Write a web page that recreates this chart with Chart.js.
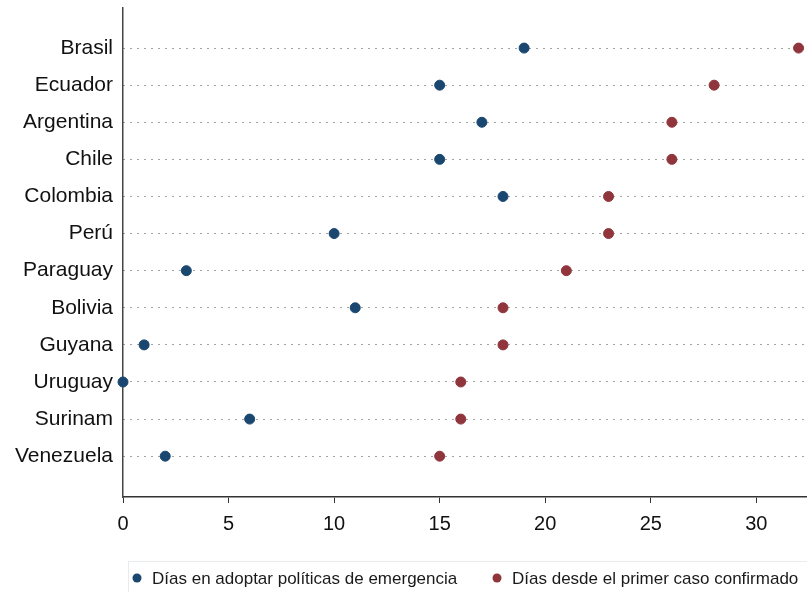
<!DOCTYPE html>
<html>
<head>
<meta charset="utf-8">
<script src="https://cdn.jsdelivr.net/npm/chart.js@4/dist/chart.umd.min.js"></script>
<style>
  html, body { margin: 0; padding: 0; background: #fff; }
  #wrap { width: 807px; height: 592px; }
</style>
</head>
<body>
<div id="wrap"><canvas id="chart1"></canvas></div>
<script>
var paises = ["Brasil", "Ecuador", "Argentina", "Chile", "Colombia", "Perú",
  "Paraguay", "Bolivia", "Guyana", "Uruguay", "Surinam", "Venezuela"];
var diasPoliticas = [19, 15, 17, 15, 18, 10, 3, 11, 1, 0, 6, 2];
var diasPrimerCaso = [32, 28, 26, 26, 23, 23, 21, 18, 18, 16, 16, 15];
var xTicks = [0, 5, 10, 15, 20, 25, 30];

var azul = "#1a476f";
var rojo = "#90353b";
var FONT = "'Liberation Sans', Arial, sans-serif";

function toPoints(values) {
  return values.map(function (v, i) {
    return { x: v, y: i + 1 };
  });
}

// legend drawn by hand to match the framed box below the axis
var legendBox = {
  id: "legendBox",
  afterDraw: function (chart) {
    var ctx = chart.ctx;
    ctx.save();
    ctx.strokeStyle = "#e8ecef";
    ctx.lineWidth = 1;
    ctx.strokeRect(128.5, 561.5, 690, 40);
    ctx.font = "17px " + FONT;
    ctx.textBaseline = "middle";
    var xs = [137, 497];
    chart.data.datasets.forEach(function (ds, i) {
      ctx.fillStyle = ds.backgroundColor;
      ctx.beginPath();
      ctx.arc(xs[i], 578, 4.5, 0, Math.PI * 2);
      ctx.fill();
      ctx.fillStyle = "#1a1a1a";
      ctx.fillText(ds.label, xs[i] + 15, 579);
    });
    ctx.restore();
  }
};

var ctx = document.getElementById("chart1").getContext("2d");
var chart = new Chart(ctx, {
  type: "scatter",
  data: {
    datasets: [
      {
        label: "Días en adoptar políticas de emergencia",
        data: toPoints(diasPoliticas),
        backgroundColor: azul,
        borderColor: azul,
        pointRadius: 5,
        clip: false
      },
      {
        label: "Días desde el primer caso confirmado",
        data: toPoints(diasPrimerCaso),
        backgroundColor: rojo,
        borderColor: rojo,
        pointRadius: 5,
        clip: false
      }
    ]
  },
  options: {
    responsive: true,
    maintainAspectRatio: false,
    animation: false,
    layout: { autoPadding: false, padding: { top: 8, right: 0, bottom: 55, left: 0 } },
    plugins: {
      legend: { display: false },
      tooltip: { enabled: false }
    },
    scales: {
      x: {
        type: "linear",
        min: 0,
        max: 32.4,
        afterBuildTicks: function (scale) {
          scale.ticks = xTicks.map(function (v) { return { value: v }; });
        },
        afterFit: function (scale) {
          scale.height = 40;
          scale.paddingLeft = 0;
          scale.paddingRight = 0;
        },
        border: { display: true, color: "#333", width: 1.5 },
        grid: {
          drawOnChartArea: false,
          drawTicks: true,
          tickLength: 6,
          color: "#333"
        },
        ticks: {
          color: "#111",
          font: { family: FONT, size: 20 },
          padding: 9,
          maxRotation: 0
        }
      },
      y: {
        type: "linear",
        reverse: true,
        min: -0.08,
        max: 13.1,
        afterBuildTicks: function (scale) {
          scale.ticks = paises.map(function (p, i) { return { value: i + 1 }; });
        },
        afterFit: function (scale) {
          scale.width = 123;
          scale.paddingTop = 0;
          scale.paddingBottom = 0;
        },
        border: { display: true, color: "#444", width: 1.5, dash: [1, 6] },
        grid: {
          drawTicks: false,
          color: "#444",
          lineWidth: 1
        },
        ticks: {
          color: "#111",
          padding: 10,
          font: { family: FONT, size: 21 },
          callback: function (v) { return paises[v - 1]; }
        }
      }
    }
  },
  plugins: [legendBox]
});
</script>
</body>
</html>
